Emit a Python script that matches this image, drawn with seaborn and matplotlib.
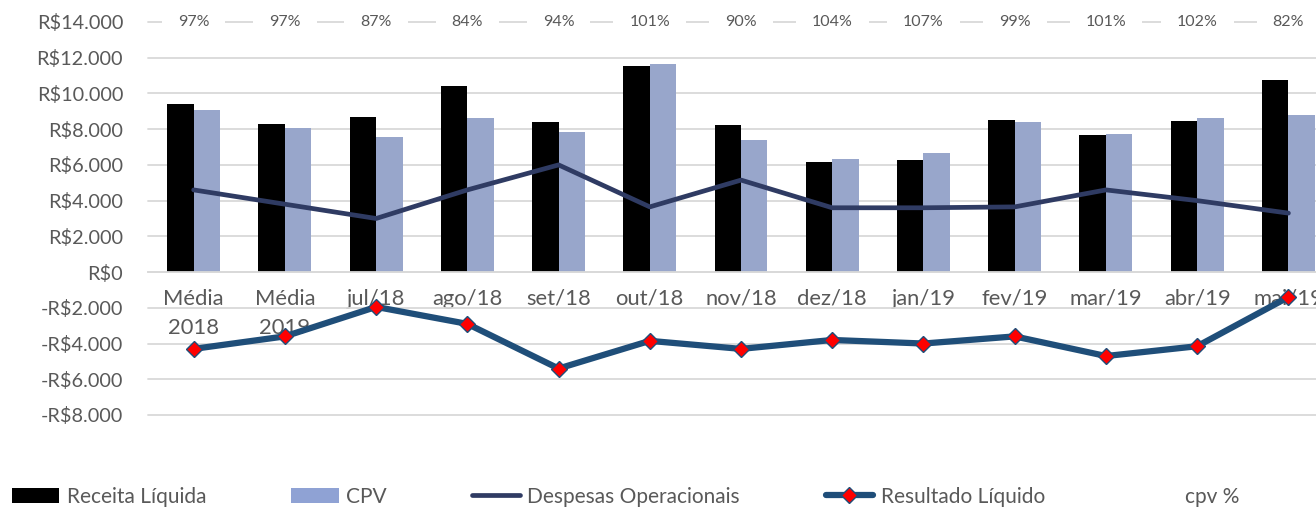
import numpy as np
import pandas as pd
import matplotlib
matplotlib.use("Agg")
import matplotlib.pyplot as plt
import seaborn as sns
from matplotlib.patches import Patch
from matplotlib.lines import Line2D

# ==========================================
# DATA
# ==========================================
meses = ["Média\n2018", "Média\n2019", "jul/18", "ago/18", "set/18", "out/18", "nov/18",
         "dez/18", "jan/19", "fev/19", "mar/19", "abr/19", "mai/19"]
receita_liquida = [9400, 8300, 8700, 10400, 8400, 11550, 8250, 6150, 6250, 8500, 7700, 8450, 10750]
cpv = [9100, 8050, 7560, 8650, 7850, 11650, 7400, 6350, 6650, 8400, 7750, 8600, 8780]
despesas_operacionais = [4600, 3800, 3000, 4600, 6000, 3650, 5150, 3600, 3600, 3650, 4600, 4000, 3300]
resultado_liquido = [-4300, -3600, -1950, -2900, -5400, -3850, -4300, -3800, -4000, -3600, -4700, -4150, -1400]
cpv_pct = ["97%", "97%", "87%", "84%", "94%", "101%", "90%", "104%", "107%", "99%", "101%", "102%", "82%"]
y_ticks = [-8000, -6000, -4000, -2000, 0, 2000, 4000, 6000, 8000, 10000, 12000, 14000]

# colours
COR_RECEITA = "#000000"
COR_CPV = "#8FA2D4"
COR_DESPESAS = "#2F3B63"
COR_RESULTADO = "#1F4E79"
COR_TEXTO = "#595959"
COR_GRADE = "#D9D9D9"


def fmt_real(v):
    s = f"R${abs(v):,.0f}".replace(",", ".")
    return "-" + s if v < 0 else s


sns.set_theme(style="white")
plt.rcParams["font.family"] = ["Lato", "DejaVu Sans"]

fig = plt.figure(figsize=(13.16, 5.09), dpi=100)
ax = fig.add_axes([0.1125, 0.1847, 0.9012, 0.7721])

# ==========================================
# BARS
# ==========================================
df_bars = pd.DataFrame({
    "mes": meses * 2,
    "serie": ["Receita Líquida"] * len(meses) + ["CPV"] * len(meses),
    "valor": receita_liquida + cpv,
})
sns.barplot(data=df_bars, x="mes", y="valor", hue="serie", order=meses,
            hue_order=["Receita Líquida", "CPV"],
            palette=[COR_RECEITA, COR_CPV], width=0.58, linewidth=0,
            legend=False, ax=ax, zorder=2)

# ==========================================
# LINES
# ==========================================
x = np.arange(len(meses))
sns.lineplot(x=x, y=despesas_operacionais, color=COR_DESPESAS, linewidth=3.4,
             ax=ax, zorder=4)
sns.lineplot(x=x, y=resultado_liquido, color=COR_RESULTADO, linewidth=4.5,
             marker="D", markersize=8, markerfacecolor="red",
             markeredgecolor=COR_RESULTADO, markeredgewidth=1.0, ax=ax, zorder=5)

# cpv % labels along the top line
for i, txt in enumerate(cpv_pct):
    ax.text(i, 14000, txt, ha="center", va="center", fontsize=11.5, color=COR_TEXTO,
            bbox=dict(boxstyle="square,pad=1.0", fc="white", ec="none"),
            zorder=6, clip_on=False)

# ==========================================
# AXES STYLE
# ==========================================
ax.set_xlim(-0.5, len(meses) - 0.5)
ax.set_ylim(-8000, 14000)
ax.set_yticks(y_ticks)
ax.set_yticklabels([fmt_real(v) for v in y_ticks])
ax.set_xticks(x)
ax.set_xticklabels(meses)
ax.set_xlabel("")
ax.set_ylabel("")

ax.set_axisbelow(True)
ax.yaxis.grid(True, color=COR_GRADE, linewidth=1.3)
for g in ax.get_ygridlines():
    g.set_clip_on(False)
ax.xaxis.grid(False)
for side in ["left", "right", "top"]:
    ax.spines[side].set_visible(False)
ax.spines["bottom"].set_position(("data", 0))
ax.spines["bottom"].set_color(COR_GRADE)
ax.spines["bottom"].set_linewidth(1.3)

ax.tick_params(axis="x", length=0, pad=12, labelsize=15.8, labelcolor=COR_TEXTO)
ax.tick_params(axis="y", length=0, pad=18, labelsize=14.3, labelcolor=COR_TEXTO)
for t in ax.get_xticklabels():
    t.set_linespacing(1.55)

# ==========================================
# LEGEND
# ==========================================
handles = [
    Patch(facecolor=COR_RECEITA, edgecolor="none"),
    Patch(facecolor=COR_CPV, edgecolor="none"),
    Line2D([], [], color=COR_DESPESAS, linewidth=3.4),
    Line2D([], [], color=COR_RESULTADO, linewidth=4.5, marker="D", markersize=8,
           markerfacecolor="red", markeredgecolor=COR_RESULTADO),
    Line2D([], [], color="none"),
]
labels = ["Receita Líquida", "CPV", "Despesas Operacionais", "Resultado Líquido", "cpv %"]
fig.legend(handles, labels, loc="center left", bbox_to_anchor=(0.004, 0.024), ncol=5,
           frameon=False, fontsize=15, labelcolor=COR_TEXTO, handlelength=2.3,
           handleheight=0.75, handletextpad=0.34, columnspacing=4.1, borderaxespad=0,
           borderpad=0.3)

fig.savefig("out.png", dpi=100)
